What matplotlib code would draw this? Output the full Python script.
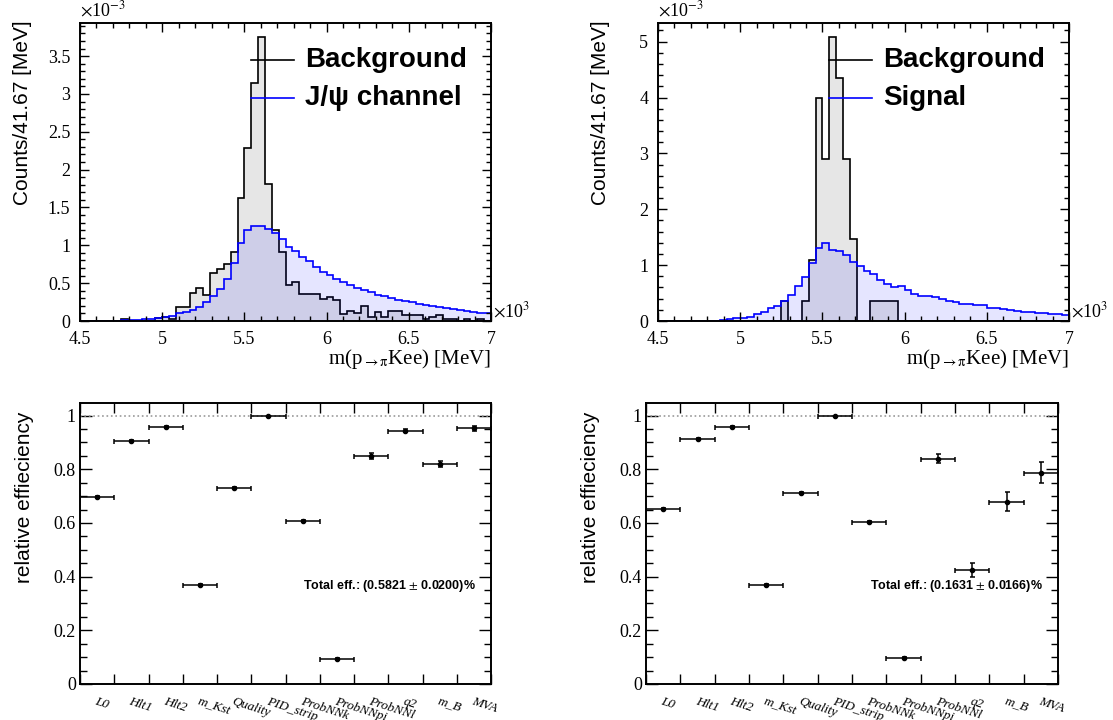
import numpy as np
import matplotlib as mpl
import matplotlib.pyplot as plt
from matplotlib.ticker import MultipleLocator, NullFormatter

# histogram binning: 60 bins of 41.67 MeV between 4500 and 7000 MeV
edges = np.linspace(4500, 7000, 61)

# bin contents in units of 1e-3
bkg_jpsi = [0, 0, 0, 0, 0, 0, 0.02, 0, 0, 0,
            0, 0.04, 0.05, 0.03, 0.18, 0.18, 0.37, 0.43, 0.34, 0.63,
            0.69, 0.75, 0.91, 1.63, 2.29, 3.15, 3.75, 1.81, 1.20, 0.91,
            0.48, 0.51, 0.36, 0.36, 0.36, 0.29, 0.32, 0.28, 0.09, 0.13,
            0.10, 0.20, 0.05, 0.12, 0.05, 0.13, 0.13, 0.08, 0.08, 0.08,
            0.03, 0.05, 0.08, 0.03, 0.03, 0.0, 0.02, 0.0, 0.03, 0.0]
sig_jpsi = [0, 0, 0, 0, 0.003, 0.005, 0.008, 0.01, 0.015, 0.02,
            0.025, 0.035, 0.05, 0.07, 0.10, 0.12, 0.15, 0.19, 0.25, 0.33,
            0.42, 0.55, 0.76, 1.03, 1.20, 1.25, 1.25, 1.21, 1.16, 1.08,
            0.98, 0.93, 0.85, 0.79, 0.72, 0.65, 0.61, 0.56, 0.52, 0.47,
            0.44, 0.41, 0.38, 0.35, 0.33, 0.30, 0.28, 0.26, 0.25, 0.23,
            0.21, 0.20, 0.19, 0.17, 0.16, 0.15, 0.13, 0.12, 0.11, 0.10]
bkg_sig = [0, 0, 0, 0, 0, 0, 0, 0, 0, 0,
           0, 0, 0, 0, 0, 0, 0, 0, 0.35, 0,
           0, 0.35, 1.09, 3.99, 2.90, 5.08, 4.35, 2.90, 1.46, 0,
           0, 0.35, 0.35, 0.35, 0.35, 0, 0, 0, 0, 0,
           0, 0, 0, 0, 0, 0, 0, 0, 0, 0,
           0, 0, 0, 0, 0, 0, 0, 0, 0, 0]
sig_sig = [0, 0, 0, 0, 0, 0, 0, 0, 0.005, 0.01,
           0.04, 0.05, 0.06, 0.08, 0.12, 0.16, 0.24, 0.27, 0.36, 0.46,
           0.62, 0.79, 1.04, 1.31, 1.40, 1.27, 1.26, 1.18, 1.06, 0.99,
           0.89, 0.84, 0.74, 0.66, 0.60, 0.63, 0.56, 0.49, 0.44, 0.44,
           0.43, 0.40, 0.35, 0.34, 0.31, 0.30, 0.29, 0.29, 0.24, 0.24,
           0.21, 0.19, 0.18, 0.17, 0.16, 0.15, 0.14, 0.13, 0.12, 0.10]

# cut flow
cuts = ['L0', 'Hlt1', 'Hlt2', 'm_Kst', 'Quality', 'PID_strip', 'ProbNNk',
        'ProbNNpi', 'ProbNNl', 'q2', 'm_B', 'MVA']
eff_jpsi = [0.696, 0.906, 0.959, 0.369, 0.732, 1.0, 0.609, 0.094, 0.849, 0.944, 0.820, 0.952]
err_jpsi = [0.003, 0.003, 0.003, 0.003, 0.003, 0.0, 0.003, 0.003, 0.010, 0.006, 0.010, 0.008]
eff_sig = [0.652, 0.912, 0.959, 0.370, 0.712, 1.0, 0.605, 0.096, 0.840, 0.425, 0.679, 0.788]
err_sig = [0.003, 0.003, 0.003, 0.003, 0.003, 0.0, 0.003, 0.003, 0.017, 0.026, 0.035, 0.038]
total_jpsi = 'Total eff.: (0.5821 $\\pm$ 0.0200)%'
total_sig = 'Total eff.: (0.1631 $\\pm$ 0.0166)%'

# configuration
mpl.rcParams['font.family'] = ['Liberation Serif', 'DejaVu Serif']
mpl.rcParams['mathtext.fontset'] = 'stix'
mpl.rcParams['axes.linewidth'] = 1.4
mpl.rcParams['xtick.direction'] = 'in'
mpl.rcParams['ytick.direction'] = 'in'
mpl.rcParams['xtick.top'] = True
mpl.rcParams['ytick.right'] = True
mpl.rcParams['xtick.labelsize'] = 13
mpl.rcParams['ytick.labelsize'] = 13

fig = plt.figure(figsize=(11.13, 7.2), dpi=100)
W, H = 1113., 720.


def add_ax(l, t, r, b):
    return fig.add_axes([l / W, 1 - b / H, (r - l) / W, (b - t) / H])


def histo(ax, bkg, sig, sig_name):
    x = edges / 1000.
    bkg = np.array(bkg)
    sig = np.array(sig)
    ax.stairs(bkg, x, fill=True, color='#e6e6e6', lw=0)
    ax.stairs(bkg, x, color='black', lw=1.2, baseline=0)
    ax.stairs(sig, x, fill=True, color='blue', alpha=0.1, lw=0)
    ax.stairs(sig, x, color='blue', lw=1.2, baseline=0)
    ax.set_xlim(4.5, 7.0)
    ax.set_ylim(0, max(bkg.max(), sig.max()) * 1.05)
    ax.xaxis.set_major_locator(MultipleLocator(0.5))
    ax.xaxis.set_minor_locator(MultipleLocator(0.1))
    ax.yaxis.set_major_locator(MultipleLocator(0.5 if bkg.max() < 4 else 1.0))
    ax.yaxis.set_minor_locator(MultipleLocator(0.1 if bkg.max() < 4 else 0.2))
    ax.xaxis.set_major_formatter(mpl.ticker.FuncFormatter(lambda v, p: ('%g' % v)))
    ax.yaxis.set_major_formatter(mpl.ticker.FuncFormatter(lambda v, p: ('%g' % v)))
    ax.tick_params(which='major', length=6.5, width=1.0, pad=7)
    ax.tick_params(which='minor', length=3.6, width=1.0)
    ax.set_ylabel('Counts/41.67 [MeV]', family='Liberation Sans', fontsize=15,
                  loc='top')
    ax.yaxis.set_label_coords(-0.117, 1.01)
    ax.set_xlabel(r'm(p$_{\rightarrow\mathrm{\pi}}$Kee) [MeV]', fontsize=15, loc='right')
    ax.xaxis.set_label_coords(1.0, -0.088)
    ax.text(0.0, 1.01, r'$\times$10$^{-3}$', transform=ax.transAxes, fontsize=13,
            ha='left', va='bottom')
    ax.text(1.005, 0.0, r'$\times$10$^{3}$', transform=ax.transAxes, fontsize=13,
            ha='left', va='bottom')
    # legend
    ax.plot([0.416, 0.521], [0.876, 0.876], color='black', lw=1.2, transform=ax.transAxes)
    ax.plot([0.416, 0.521], [0.748, 0.748], color='blue', lw=1.2, transform=ax.transAxes)
    ax.text(0.547, 0.876, 'Background', transform=ax.transAxes, fontsize=20,
            family='Liberation Sans', weight='bold', va='center')
    ax.text(0.547, 0.748, sig_name, transform=ax.transAxes, fontsize=20,
            family='Liberation Sans', weight='bold', va='center')


def cutflow(ax, eff, err, total):
    pos = np.arange(len(cuts)) + 0.5
    ax.axhline(1.0, color='#999999', ls=':', lw=1.2)
    ax.errorbar(pos, eff, xerr=0.5, yerr=err, fmt='o', color='black', ms=3,
                elinewidth=1.1, capsize=1.8, capthick=1.1)
    ax.set_xlim(0, len(cuts))
    ax.set_ylim(0, 1.047)
    ax.set_xticks(np.arange(len(cuts) + 1))
    ax.xaxis.set_major_formatter(NullFormatter())
    ax.set_xticks(pos, cuts, minor=True)
    ax.tick_params(axis='x', which='minor', length=0, pad=8, labelsize=9.5)
    for lab in ax.get_xticklabels(minor=True):
        lab.set_rotation(-18)
        lab.set_ha('left')
        lab.set_va('top')
        lab.set_rotation_mode('anchor')
        lab.set_style('italic')
    ax.tick_params(axis='x', which='major', length=7, width=1.0)
    ax.yaxis.set_major_locator(MultipleLocator(0.2))
    ax.yaxis.set_minor_locator(MultipleLocator(0.05))
    ax.yaxis.set_major_formatter(mpl.ticker.FuncFormatter(lambda v, p: ('%g' % v)))
    ax.tick_params(axis='y', which='major', length=8.6, width=1.0, pad=3)
    ax.tick_params(axis='y', which='minor', length=5, width=1.0)
    ax.set_ylabel('relative effieciency', family='Liberation Sans', fontsize=15,
                  loc='top')
    ax.yaxis.set_label_coords(-0.112, 0.968)
    ax.text(0.962, 0.35, total, transform=ax.transAxes, fontsize=9,
            family='Liberation Sans', weight='bold', ha='right', va='center')


ax1 = add_ax(80, 23, 491, 321)
histo(ax1, bkg_jpsi, sig_jpsi, 'J/\u03c8 channel')
ax2 = add_ax(658, 23, 1069, 321)
histo(ax2, bkg_sig, sig_sig, 'Signal')

ax3 = add_ax(80, 403, 491, 684)
cutflow(ax3, eff_jpsi, err_jpsi, total_jpsi)
ax4 = add_ax(646, 403, 1058, 684)
cutflow(ax4, eff_sig, err_sig, total_sig)

plt.savefig('out.png', dpi=100)
